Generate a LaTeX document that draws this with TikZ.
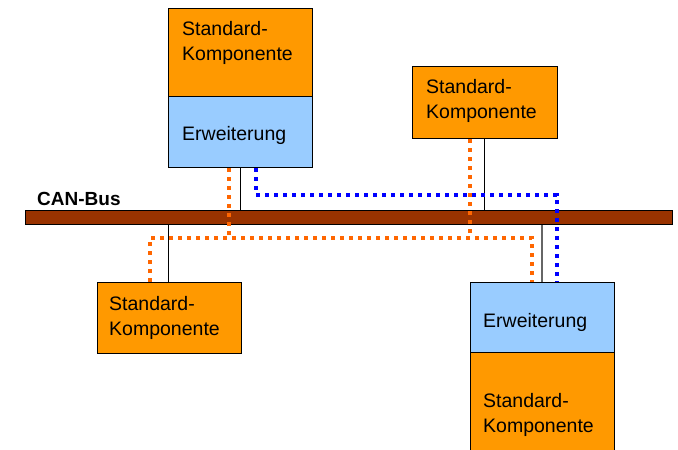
\documentclass[tikz,border=0pt]{standalone}
\usepackage{fontspec}
\setmainfont{Liberation Sans}
\usepackage{tikz}
\usetikzlibrary{positioning}
\definecolor{kompo}{HTML}{FF9900}
\definecolor{erw}{HTML}{99CCFF}
\definecolor{busbraun}{HTML}{993300}
\definecolor{punktor}{HTML}{FF6600}
\definecolor{punktbl}{HTML}{0000FF}

\begin{document}
\begin{tikzpicture}[x=1pt, y=-1pt,
    kasten/.style={draw=black, line width=1.1pt, anchor=north west, inner sep=0pt},
    beschr/.style={anchor=north west, align=left, inner sep=0pt,
      font=\fontsize{19.5}{25.5}\selectfont},
    punkte/.style={line width=4pt, dash pattern=on 4pt off 5pt}]

  \useasboundingbox (0,0) rectangle (678,450);

  % Bus
  \node[kasten, fill=busbraun, minimum width=647, minimum height=14] (bus) at (25,210) {};
  \node[anchor=base west, inner sep=0pt, font=\fontsize{19}{23}\selectfont\bfseries] (buslabel) at (37,205) {CAN-Bus};

  % Komponenten
  \node[kasten, fill=kompo, minimum width=144, minimum height=88] (k1) at (168,8) {};
  \node[kasten, fill=erw, minimum width=144, minimum height=71] (e1) at (168,96) {};
  \node[kasten, fill=kompo, minimum width=145, minimum height=72] (k2) at (412,66) {};
  \node[kasten, fill=kompo, minimum width=144, minimum height=71] (k3) at (97,282) {};
  \node[kasten, fill=erw, minimum width=144, minimum height=70] (e4) at (470,282) {};
  \node[kasten, fill=kompo, minimum width=144, minimum height=110] (k4) at (470,352) {};

  \node[beschr] (k1t) at (182,21) {Standard-\\Komponente};
  \node[beschr] (e1t) at (182,126) {Erweiterung};
  \node[beschr] (k2t) at (426,79) {Standard-\\Komponente};
  \node[beschr] (k3t) at (109,296) {Standard-\\Komponente};
  \node[beschr] (e4t) at (483,313) {Erweiterung};
  \node[beschr] (k4t) at (483,393) {Standard-\\Komponente};

  % Anschluesse an den Bus
  \coordinate (a1) at (240,0);
  \coordinate (a2) at (484,0);
  \coordinate (a3) at (168,0);
  \coordinate (a4) at (542,0);
  \draw[line width=0.8pt] (a1 |- e1.south) -- (a1 |- bus.north);
  \draw[line width=0.8pt] (a2 |- k2.south) -- (a2 |- bus.north);
  \draw[line width=0.8pt] (a3 |- bus.south) -- (a3 |- k3.north);
  \draw[line width=1.2pt, black!60] (a4 |- bus.south) -- (a4 |- e4.north);

  % logische Verbindungen
  \coordinate (o1) at (229,0);
  \coordinate (o2) at (470,0);
  \coordinate (o3) at (150,0);
  \coordinate (o4) at (532,0);
  \coordinate (oh) at (0,238);
  \draw[punkte, punktor] (o3 |- k3.north) -- (o3 |- oh) -- (o4 |- oh) -- (o4 |- e4.north);
  \draw[punkte, punktor] (o1 |- e1.south) -- (o1 |- oh);
  \draw[punkte, punktor] (o2 |- k2.south) -- (o2 |- oh);

  \coordinate (b1) at (256,0);
  \coordinate (b2) at (557,0);
  \coordinate (bh) at (0,195);
  \draw[punkte, punktbl] (b1 |- e1.south) -- (b1 |- bh) -- (b2 |- bh) -- (b2 |- e4.north);

\end{tikzpicture}
\end{document}
